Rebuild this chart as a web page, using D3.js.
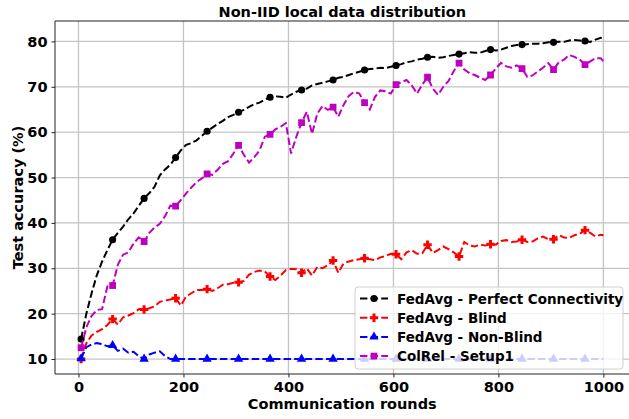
<!DOCTYPE html>
<html><head><meta charset="utf-8">
<script src="https://cdn.jsdelivr.net/npm/d3@7"></script>
<style>
html,body{margin:0;padding:0;background:#fff;}
text{font-family:"DejaVu Sans",sans-serif;font-weight:bold;}
</style></head>
<body><svg id="c" width="629" height="419"></svg>
<script>
const rounds = d3.range(5, 1000, 10).concat([1000]);
const xTicks = [0, 200, 400, 600, 800, 1000];
const yTicks = [10, 20, 30, 40, 50, 60, 70, 80];
const seriesNames = ["FedAvg - Perfect Connectivity", "FedAvg - Blind", "FedAvg - Non-Blind", "ColRel - Setup1"];

const perfect = [14.4,20.0,24.5,28.5,31.5,34.0,36.3,37.8,39.2,40.8,42.1,43.8,45.4,46.6,48.0,50.5,51.8,52.8,54.4,56.0,
57.2,57.6,58.2,59.2,60.2,61.0,61.8,62.5,63.3,63.8,64.4,64.9,65.6,66.2,66.5,67.2,67.7,67.9,67.8,67.6,
68.3,68.9,69.3,69.6,70.3,70.6,70.9,71.2,71.5,72.0,72.2,72.6,73.0,73.3,73.7,73.9,74.0,74.2,74.1,74.4,
74.7,75.0,75.4,75.6,76.0,76.2,76.5,76.6,76.4,76.5,76.8,77.0,77.2,77.4,77.6,77.5,77.5,77.9,78.2,78.0,
78.2,78.6,79.0,79.2,79.3,79.4,79.5,79.5,79.6,79.8,79.8,79.9,79.9,80.2,80.3,80.2,80.1,79.9,80.4,80.8,80.6];

const blind = [10.0,13.5,15.2,16.0,16.6,17.5,18.8,17.6,19.2,19.6,20.1,21.0,20.9,21.2,21.6,22.6,22.9,23.1,23.4,21.8,
23.8,24.5,25.2,25.2,25.4,25.0,25.6,26.4,26.5,26.8,26.9,27.2,28.6,29.2,29.5,29.3,28.2,27.4,28.4,29.6,
29.9,29.8,29.0,30.0,28.4,30.3,30.0,30.7,31.7,29.0,31.1,31.5,31.8,32.0,32.2,32.0,31.8,32.4,32.7,33.2,
33.1,32.0,33.5,34.0,33.2,33.3,35.2,33.4,34.0,34.8,34.2,33.5,32.6,35.8,35.0,34.8,35.2,35.0,35.3,35.2,
36.0,36.2,35.8,35.9,36.3,35.8,35.9,36.6,37.0,36.4,36.4,37.3,36.8,36.7,37.3,37.6,38.4,37.8,37.0,37.4,37.3];

const nonBlind = [10.1,12.6,13.2,13.5,13.3,12.8,13.0,11.8,12.3,11.4,11.6,10.6,10.0,11.0,11.4,11.7,10.6,10.0,10.0,10.0,
10.0,10.0,10.0,10.0,10.0,10.0,10.0,10.0,10.0,10.0,10.0,10.0,10.0,10.0,10.0,10.0,10.0,10.0,10.0,10.0,
10.0,10.0,10.0,10.0,10.0,10.0,10.0,10.0,10.0,10.0,10.0,10.0,10.0,10.0,10.0,10.0,10.0,10.0,10.0,10.0,
10.0,10.0,10.0,10.0,10.0,10.0,10.0,10.0,10.0,10.0,10.0,10.0,10.0,10.0,10.0,10.0,10.0,10.0,10.0,10.0,
10.0,10.0,10.0,10.0,10.0,10.0,10.0,10.0,10.0,10.0,10.0,10.0,10.0,10.0,10.0,10.0,10.0,10.0,10.0,10.0,10.0];

const colrel = [12.5,17.0,19.5,20.8,21.0,26.0,26.2,30.8,33.0,33.5,35.5,36.8,35.9,37.8,39.0,39.8,41.5,43.8,43.7,45.0,
46.5,47.8,49.0,49.8,50.8,50.6,51.7,53.0,53.6,55.3,57.1,55.0,53.3,54.5,56.0,59.0,59.5,60.6,61.2,62.0,
55.3,59.0,62.1,64.5,59.6,64.1,65.8,64.9,65.5,63.4,66.0,68.0,68.9,68.5,66.5,65.0,67.8,69.2,69.0,68.5,
70.5,71.0,71.5,70.3,68.5,70.5,72.1,69.6,68.2,70.0,71.3,73.5,75.2,73.8,73.0,72.6,72.0,71.5,72.6,74.0,
75.3,74.5,74.2,74.7,74.0,72.2,72.5,73.4,74.2,75.2,73.8,75.4,76.0,77.0,76.6,76.0,74.9,75.6,76.3,76.3,75.6];

const W = 629, H = 419;
const L = 55, R = 629.5, T = 21, B = 374;
const svg = d3.select("#c");
const x = d3.scaleLinear().domain([-44.75, 1049.75]).range([L, R]);
const y = d3.scaleLinear().domain([6.7, 84.5]).range([B, T]);

// grid
const g = svg.append("g");
g.selectAll("line.vx").data(xTicks).enter().append("line")
  .attr("x1", d => x(d)).attr("x2", d => x(d)).attr("y1", T).attr("y2", B)
  .attr("stroke", "#c4c4c4").attr("stroke-width", 1.3);
g.selectAll("line.hy").data(yTicks).enter().append("line")
  .attr("x1", L).attr("x2", R).attr("y1", d => y(d)).attr("y2", d => y(d))
  .attr("stroke", "#c4c4c4").attr("stroke-width", 1.3);

const series = [
  {name: seriesNames[0], vals: perfect, color: "#000000", marker: "circle"},
  {name: seriesNames[1], vals: blind, color: "#ff0000", marker: "plus"},
  {name: seriesNames[2], vals: nonBlind, color: "#0000ff", marker: "triangle"},
  {name: seriesNames[3], vals: colrel, color: "#bf00bf", marker: "square"}
];

function markerPath(type) {
  if (type === "circle") return d3.symbol(d3.symbolCircle, 40)();
  if (type === "square") return d3.symbol(d3.symbolSquare, 46)();
  if (type === "triangle") return d3.symbol(d3.symbolTriangle, 38)();
  // filled plus (matplotlib 'P')
  const a = 4.2, b = 1.5;
  return `M${-b},${-a}H${b}V${-b}H${a}V${b}H${b}V${a}H${-b}V${b}H${-a}V${-b}H${-b}Z`;
}

const line = d3.line().x(d => x(d[0])).y(d => y(d[1]));
const clip = svg.append("clipPath").attr("id", "pc").append("rect")
  .attr("x", L).attr("y", T).attr("width", R - L).attr("height", B - T);
const plot = svg.append("g").attr("clip-path", "url(#pc)");

series.forEach(s => {
  const pts = rounds.map((r, i) => [r, s.vals[i]]);
  plot.append("path").attr("d", line(pts)).attr("fill", "none")
    .attr("stroke", s.color).attr("stroke-width", 2)
    .attr("stroke-dasharray", "7.4,3.2");
  const mk = pts.filter((p, i) => i % 6 === 0 && i < 100);
  plot.selectAll(null).data(mk).enter().append("path")
    .attr("d", markerPath(s.marker))
    .attr("transform", d => `translate(${x(d[0])},${y(d[1])})`)
    .attr("fill", s.color);
});

// spines
svg.append("line").attr("x1", L).attr("x2", L).attr("y1", T).attr("y2", B).attr("stroke", "#222").attr("stroke-width", 1);
svg.append("line").attr("x1", L).attr("x2", R).attr("y1", B).attr("y2", B).attr("stroke", "#222").attr("stroke-width", 1);
svg.append("line").attr("x1", L).attr("x2", R).attr("y1", T).attr("y2", T).attr("stroke", "#222").attr("stroke-width", 1);

// axes
const xa = svg.append("g").attr("transform", `translate(0,${B})`)
  .call(d3.axisBottom(x).tickValues(xTicks).tickSize(3.5).tickPadding(4).tickFormat(d3.format("d")));
const ya = svg.append("g").attr("transform", `translate(${L},0)`)
  .call(d3.axisLeft(y).tickValues(yTicks).tickSize(3.5).tickPadding(4).tickFormat(d3.format("d")));
[xa, ya].forEach(a => {
  a.select(".domain").remove();
  a.selectAll("line").attr("stroke", "#222");
  a.selectAll("text").attr("font-size", 14.5).attr("fill", "#000")
    .attr("font-family", "DejaVu Sans").attr("font-weight", "bold");
});

// labels
svg.append("text").attr("x", (L + R) / 2).attr("y", 17).attr("text-anchor", "middle")
  .attr("font-size", 14.5).text("Non-IID local data distribution");
svg.append("text").attr("x", (L + R) / 2).attr("y", 409).attr("text-anchor", "middle")
  .attr("font-size", 14.5).text("Communication rounds");
svg.append("text").attr("transform", `translate(23,${(T + B) / 2}) rotate(-90)`)
  .attr("text-anchor", "middle").attr("font-size", 14.5).text("Test accuracy (%)");

// legend
const lg = svg.append("g");
lg.append("rect").attr("x", 355).attr("y", 287).attr("width", 268).attr("height", 82)
  .attr("rx", 3).attr("fill", "#fff").attr("fill-opacity", 0.8)
  .attr("stroke", "#d0d0d0").attr("stroke-width", 1);
series.forEach((s, i) => {
  const yy = 298.5 + i * 19.2;
  lg.append("line").attr("x1", 360).attr("x2", 388).attr("y1", yy).attr("y2", yy)
    .attr("stroke", s.color).attr("stroke-width", 2).attr("stroke-dasharray", "7.4,3.2");
  lg.append("path").attr("d", markerPath(s.marker)).attr("transform", `translate(374,${yy})`).attr("fill", s.color);
  lg.append("text").attr("x", 397).attr("y", yy + 5).attr("font-size", 13.5).attr("fill", "#000").text(s.name);
});
</script></body></html>
